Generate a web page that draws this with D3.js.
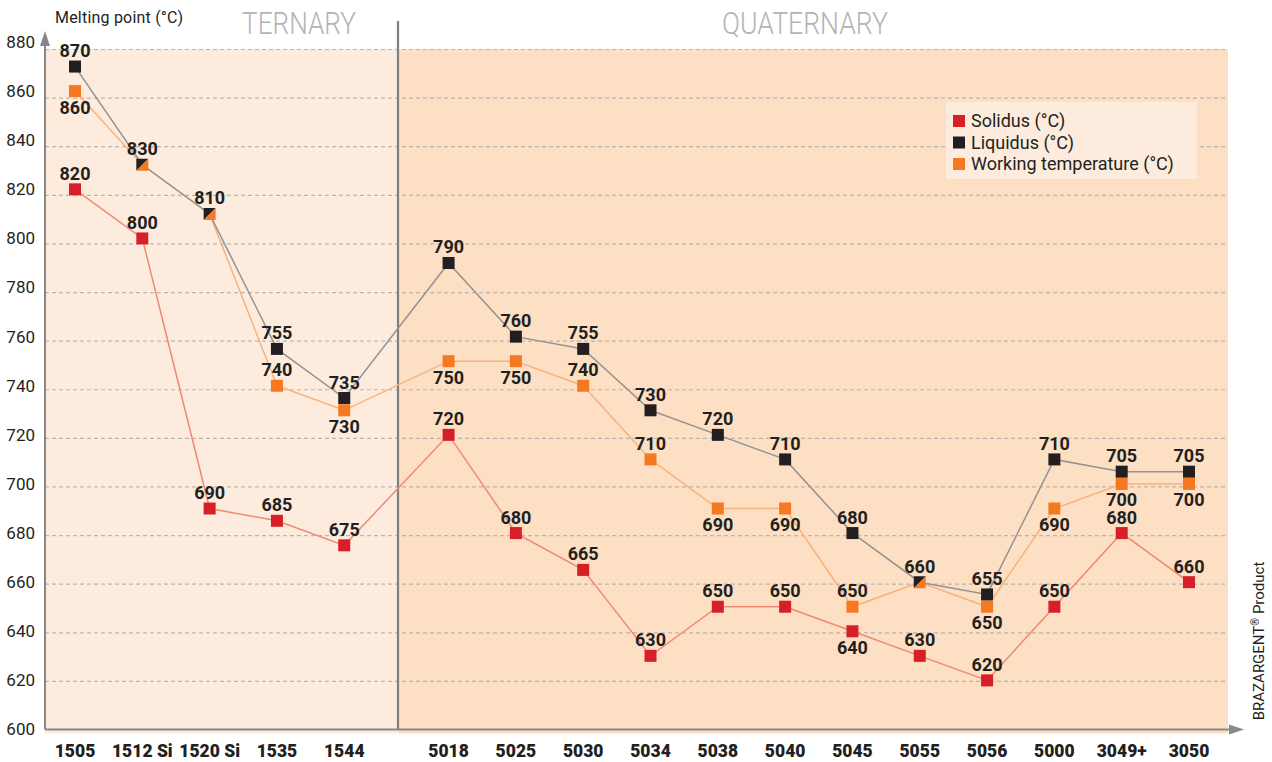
<!DOCTYPE html>
<html>
<head>
<meta charset="utf-8">
<script src="https://cdn.jsdelivr.net/npm/d3@7"></script>
<style>
  body { margin: 0; background: #fff; }
  svg { display: block; }
  text { font-family: Roboto, "Liberation Sans", sans-serif; }
</style>
</head>
<body>
<svg id="chart" width="1272" height="762"></svg>
<script>
var categories = ["1505", "1512 Si", "1520 Si", "1535", "1544",
  "5018", "5025", "5030", "5034", "5038", "5040", "5045", "5055", "5056", "5000", "3049+", "3050"];
var ternaryCount = 5;

var solidus = [820, 800, 690, 685, 675, 720, 680, 665, 630, 650, 650, 640, 630, 620, 650, 680, 660];
var liquidus = [870, 830, 810, 755, 735, 790, 760, 755, 730, 720, 710, 680, 660, 655, 710, 705, 705];
var working = [860, 830, 810, 740, 730, 750, 750, 740, 710, 690, 690, 650, 660, 650, 690, 700, 700];

// where the value label sits: a = above, b = below
var solidusSide = ["a","a","a","a","a","a","a","a","a","a","a","b","a","a","a","a","a"];
var liquidusSide = ["a","a","a","a","a","a","a","a","a","a","a","a","a","a","a","a","a"];
var workingSide = ["b","a","a","a","b","b","b","a","a","b","b","a","a","b","b","b","b"];

var yTicks = [600, 620, 640, 660, 680, 700, 720, 740, 760, 780, 800, 820, 840, 860, 880];

var legendItems = ["Solidus (°C)", "Liquidus (°C)", "Working temperature (°C)"];

var colRed = "#d71f27", colBlack = "#231f20", colOrange = "#f47920";
var lineRed = "#ee8a72", lineGray = "#939393", lineOrange = "#f8b27c";

var svg = d3.select("#chart");
var pLeft = 45, pRight = 1228, pTop = 49, pBottom = 729.5, divX = 398;

var gap = 0.55;
function slot(i) { return i < ternaryCount ? i : i + gap; }
var x = d3.scaleLinear().domain([0, categories.length - 1 + gap]).range([75, 1189]);
var y = d3.scaleLinear().domain([600, 880]).range([pBottom, 42]);
var yGrid = d3.scaleLinear().domain([600, 880]).range([pBottom, pTop]);

// backgrounds
svg.append("rect").attr("x", pLeft).attr("y", pTop).attr("width", divX - pLeft).attr("height", pBottom - pTop + 4)
  .attr("fill", "#fdecdd");
svg.append("rect").attr("x", divX).attr("y", pTop).attr("width", pRight - divX).attr("height", pBottom - pTop + 4)
  .attr("fill", "#fddfc4");

// grid
var grid = svg.append("g").attr("transform", "translate(" + pLeft + ",0)")
  .call(d3.axisLeft(yGrid).tickValues(yTicks.slice(1)).tickSize(-(pRight - pLeft)).tickFormat(""));
grid.select(".domain").remove();
grid.selectAll("line").attr("stroke", "#b9b5b1").attr("stroke-width", 1.2).attr("stroke-dasharray", "4,3");

// y tick labels
var yAxis = svg.append("g").attr("transform", "translate(" + pLeft + ",0)")
  .call(d3.axisLeft(y).tickValues(yTicks).tickSize(0).tickPadding(10));
yAxis.select(".domain").remove();
yAxis.selectAll("text").style("font-size", "17px").attr("fill", colBlack)
  .style("font-family", "Roboto, sans-serif");

// divider
svg.append("line").attr("x1", divX).attr("x2", divX).attr("y1", 21).attr("y2", pBottom)
  .attr("stroke", "#7f7f7f").attr("stroke-width", 2.2);

// axes with arrows
svg.append("line").attr("x1", pLeft).attr("x2", pLeft).attr("y1", pBottom).attr("y2", 40)
  .attr("stroke", "#888").attr("stroke-width", 2);
svg.append("path").attr("d", "M" + pLeft + ",31 L" + (pLeft - 5) + ",46 L" + (pLeft + 5) + ",46 Z").attr("fill", "#888");
svg.append("line").attr("x1", pLeft).attr("x2", 1236).attr("y1", pBottom).attr("y2", pBottom)
  .attr("stroke", "#888").attr("stroke-width", 2);
svg.append("path").attr("d", "M1244," + pBottom + " L1229," + (pBottom - 5) + " L1229," + (pBottom + 5) + " Z").attr("fill", "#888");

// titles
svg.append("text").attr("x", 55).attr("y", 23).text("Melting point (°C)")
  .style("font-size", "16px").attr("fill", colBlack).attr("textLength", 128);
svg.append("text").attr("x", 242).attr("y", 34)
  .text("TERNARY").style("font-size", "31px").attr("fill", "#b4b4b4").style("font-weight", "300")
  .attr("textLength", 114).attr("lengthAdjust", "spacingAndGlyphs");
svg.append("text").attr("x", 722).attr("y", 34)
  .text("QUATERNARY").style("font-size", "31px").attr("fill", "#b4b4b4").style("font-weight", "300")
  .attr("textLength", 166).attr("lengthAdjust", "spacingAndGlyphs");
var side = svg.append("text").attr("transform", "translate(1264,641)rotate(-90)").attr("text-anchor", "middle")
  .style("font-size", "15px").attr("fill", colBlack);
side.append("tspan").text("BRAZARGENT");
side.append("tspan").text("®").attr("dy", -5).style("font-size", "10px");
side.append("tspan").text(" Product").attr("dy", 5);

// x labels
svg.selectAll(".xlab").data(categories).enter().append("text")
  .attr("x", function (d, i) { return x(slot(i)); })
  .attr("y", 757)
  .attr("text-anchor", "middle")
  .style("font-size", "17.5px").style("font-weight", "900").attr("fill", colBlack)
  .text(function (d) { return d; });

// lines
var line = d3.line().x(function (d, i) { return x(slot(i)); }).y(function (d) { return y(d); });
svg.append("path").datum(solidus).attr("d", line).attr("fill", "none").attr("stroke", lineRed).attr("stroke-width", 1.5);
svg.append("path").datum(working).attr("d", line).attr("fill", "none").attr("stroke", lineOrange).attr("stroke-width", 1.5);
svg.append("path").datum(liquidus).attr("d", line).attr("fill", "none").attr("stroke", lineGray).attr("stroke-width", 1.5);

// markers
var s = 6;
function same(i) { return liquidus[i] === working[i]; }
function squares(values, color, skip) {
  values.forEach(function (v, i) {
    if (skip && skip(i)) return;
    svg.append("rect").attr("x", x(slot(i)) - s).attr("y", y(v) - s)
      .attr("width", 2 * s).attr("height", 2 * s).attr("fill", color);
  });
}
squares(solidus, colRed);
squares(working, colOrange, same);
squares(liquidus, colBlack, same);
liquidus.forEach(function (v, i) {
  if (!same(i)) return;
  var cx = x(slot(i)), cy = y(v);
  svg.append("path").attr("d", "M" + (cx - s) + "," + (cy - s) + "L" + (cx + s) + "," + (cy - s) + "L" + (cx - s) + "," + (cy + s) + "Z").attr("fill", colBlack);
  svg.append("path").attr("d", "M" + (cx + s) + "," + (cy - s) + "L" + (cx + s) + "," + (cy + s) + "L" + (cx - s) + "," + (cy + s) + "Z").attr("fill", colOrange);
});

// value labels
function labels(values, sides, skip) {
  values.forEach(function (v, i) {
    if (skip && skip(i)) return;
    svg.append("text")
      .attr("x", x(slot(i)))
      .attr("y", y(v) + (sides[i] === "a" ? -9.5 : 22.5))
      .attr("text-anchor", "middle")
      .style("font-size", "18px").style("font-weight", "bold").attr("fill", colBlack)
      .text(v);
  });
}
labels(solidus, solidusSide);
labels(liquidus, liquidusSide);
labels(working, workingSide, same);

// legend
var lg = svg.append("g").attr("transform", "translate(946,102)");
lg.append("rect").attr("width", 251).attr("height", 77).attr("fill", "#fdecdd");
lg.selectAll(".li").data(legendItems).enter().append("g")
  .attr("transform", function (d, i) { return "translate(0," + (19 + i * 21.5) + ")"; })
  .each(function (d, i) {
    var g = d3.select(this);
    g.append("rect").attr("x", 7).attr("y", -6).attr("width", 12).attr("height", 12)
      .attr("fill", [colRed, colBlack, colOrange][i]);
    g.append("text").attr("x", 25).attr("y", 6).text(d).style("font-size", "18px").attr("fill", colBlack);
  });
</script>
</body>
</html>
